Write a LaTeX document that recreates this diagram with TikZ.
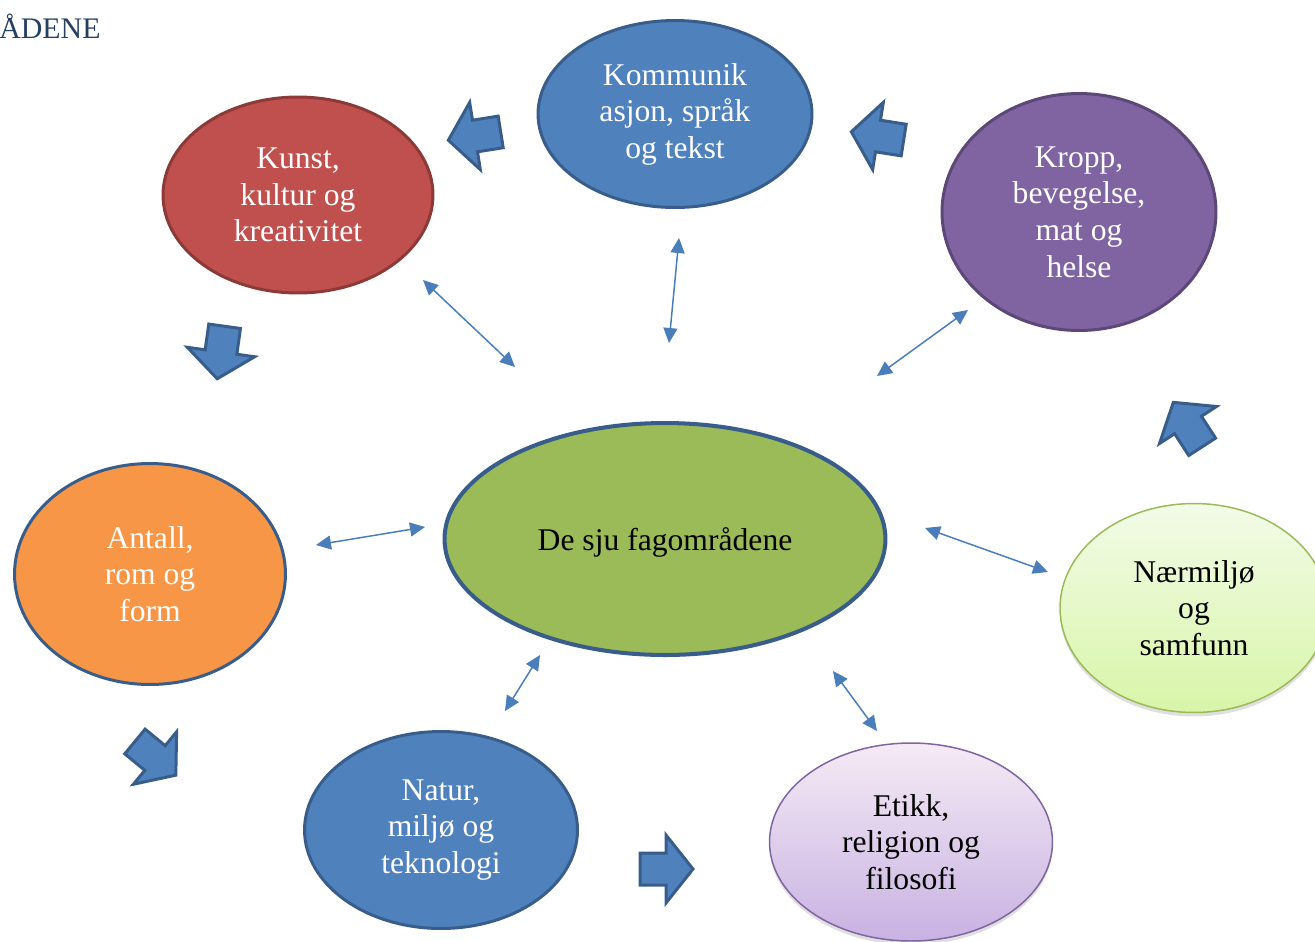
\documentclass[tikz,border=0pt]{standalone}
\usepackage{fontspec}
\setmainfont{Liberation Serif}
\usetikzlibrary{arrows.meta,shapes.geometric,shadows}
\definecolor{kunstred}{HTML}{C0504D}
\definecolor{kunstline}{HTML}{8C3A37}
\definecolor{fagblue}{HTML}{4F81BD}
\definecolor{fagline}{HTML}{385D8A}
\definecolor{kropppurple}{HTML}{8064A2}
\definecolor{kroppline}{HTML}{5C4776}
\definecolor{midgreen}{HTML}{9BBB59}
\definecolor{antallorange}{HTML}{F79646}
\definecolor{arrowblue}{HTML}{4A7EBB}
\definecolor{titleblue}{HTML}{243F60}
\def\blockarrow(#1)(#2){\draw[blockstyle,shift={(#1)},rotate=#2] (-26,-16) -- (0,-16) -- (0,-34) -- (27,0) -- (0,34) -- (0,16) -- (-26,16) -- cycle;}
\tikzset{
	fagomr/.style={ellipse, inner sep=0pt, align=center, font=\fontsize{18}{20.8}\selectfont},
	solidfag/.style={fagomr, line width=1.7pt, text=white},
	lightfag/.style={fagomr, line width=0.85pt, text=black, drop shadow={shadow xshift=0pt, shadow yshift=-0.08cm, opacity=0.25}},
	twoway/.style={<->, >={Triangle[length=0.3cm,width=0.28cm]}, draw=arrowblue, line width=0.85pt},
	blockstyle/.style={fill=fagblue, draw=fagline, line width=1.7pt, line join=miter}
}
\begin{document}
\begin{tikzpicture}[x=0.02cm, y=-0.02cm]
			%%%%% START %%%%%
			\useasboundingbox (0,0) rectangle (1315,941);
			
			\node[anchor=base west, inner sep=0pt, text=titleblue, font=\fontsize{17}{20}\selectfont] (title) at (-1,38) {ÅDENE};
			
			\node[solidfag, fill=kunstred, draw=kunstline, minimum width=5.4cm, minimum height=3.92cm] (kunst) at (298,195) {Kunst,\\kultur og\\kreativitet};
			\node[solidfag, fill=fagblue, draw=fagline, minimum width=5.48cm, minimum height=3.74cm] (komm) at (675,114) {Kommunik\\asjon, språk\\og tekst};
			\node[solidfag, fill=kropppurple, draw=kroppline, minimum width=5.48cm, minimum height=4.74cm] (kropp) at (1079,212) {Kropp,\\bevegelse,\\mat og\\helse};
			\node[fagomr, fill=midgreen, draw=fagline, line width=2.3pt, text depth=0pt, minimum width=8.82cm, minimum height=4.64cm] (fag) at (665,539) {De sju fagområdene};
			\node[solidfag, fill=antallorange, draw=fagline, minimum width=5.42cm, minimum height=4.42cm] (antall) at (150,574) {Antall,\\rom og\\form};
			\node[solidfag, fill=fagblue, draw=fagline, minimum width=5.46cm, minimum height=3.94cm] (natur) at (441,830) {Natur,\\miljø og\\teknologi};
			\node[lightfag, top color=violet!8, bottom color={rgb,255:red,200;green,178;blue,226}, draw=kropppurple, minimum width=5.66cm, minimum height=3.96cm] (etikk) at (911,842) {Etikk,\\religion og\\filosofi};
			\node[lightfag, top color={rgb,255:red,243;green,251;blue,232}, bottom color={rgb,255:red,216;green,245;blue,168}, draw=midgreen, minimum width=5.36cm, minimum height=4.18cm] (naer) at (1194,608) {Nærmiljø\\og\\samfunn};
			
			% double arrows
			\coordinate (kunst-end) at (423,280); \coordinate (kunst-fag) at (515,367);
			\coordinate (komm-end) at (679,238); \coordinate (komm-fag) at (669,343);
			\coordinate (kropp-end) at (968,310); \coordinate (kropp-fag) at (877,376);
			\coordinate (antall-end) at (316,545); \coordinate (antall-fag) at (425,527);
			\coordinate (natur-end) at (505,711); \coordinate (natur-fag) at (540,655);
			\coordinate (etikk-end) at (877,731); \coordinate (etikk-fag) at (833,671);
			\coordinate (naer-end) at (1048,572); \coordinate (naer-fag) at (925,528);
			\draw[twoway] (kunst-end) -- (kunst-fag);
			\draw[twoway] (komm-end) -- (komm-fag);
			\draw[twoway] (kropp-end) -- (kropp-fag);
			\draw[twoway] (antall-end) -- (antall-fag);
			\draw[twoway] (natur-end) -- (natur-fag);
			\draw[twoway] (etikk-end) -- (etikk-fag);
			\draw[twoway] (naer-end) -- (naer-fag);
			
			% block arrows round the circle
			\blockarrow(475,136)(189)
			\blockarrow(221,352)(262)
			\blockarrow(878,136)(171)
			\blockarrow(1188,425)(123)
			\blockarrow(155,758)(-39.5)
			\blockarrow(666,869)(0)
			%%%%% END %%%%%
\end{tikzpicture}
\end{document}
